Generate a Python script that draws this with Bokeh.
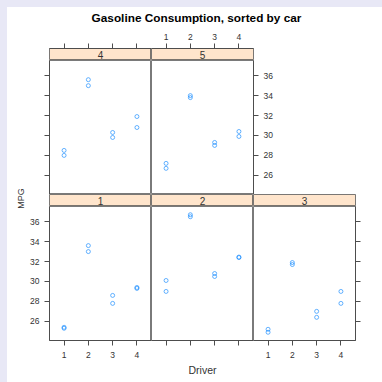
import math
from bokeh.plotting import figure
from bokeh.models import Range1d, LinearAxis, FixedTicker, Label, Spacer
from bokeh.layouts import column, row
from bokeh.embed import file_html
from bokeh.resources import INLINE

title_text = "Gasoline Consumption, sorted by car"
x_label = "Driver"
y_label = "MPG"

drivers = [1, 1, 2, 2, 3, 3, 4, 4]
mpg_car1 = [25.4, 25.3, 33.6, 33.0, 28.6, 27.8, 29.4, 29.3]
mpg_car2 = [30.1, 29.0, 36.7, 36.5, 30.8, 30.5, 32.45, 32.4]
mpg_car3 = [25.2, 24.9, 31.9, 31.7, 27.0, 26.4, 29.0, 27.8]
mpg_car4 = [28.5, 28.0, 35.6, 35.0, 30.3, 29.8, 31.9, 30.8]
mpg_car5 = [27.2, 26.7, 34.0, 33.8, 29.3, 29.0, 30.4, 29.9]

x_ticks = [1, 2, 3, 4]
y_ticks = [26, 28, 30, 32, 34, 36]

FONT = "Liberation Sans"
LINE = "#4d4d4d"
TXT = "#333333"
STRIP = "#ffe5cc"
PT = "#0080ff"
PAGE = "#e8e8f6"

all_mpg = mpg_car1 + mpg_car2 + mpg_car3 + mpg_car4 + mpg_car5
lo, hi = min(all_mpg), max(all_mpg)
pad = 0.07 * (hi - lo)
yr = Range1d(lo - pad, hi + pad)
xr = Range1d(min(drivers) - 0.6, max(drivers) + 0.6)


def base(width, height, left=0, right=0, top=0, bottom=0, x_range=None, y_range=None, fill="white"):
    f = figure(width=width, height=height, x_range=x_range or Range1d(0, 1),
               y_range=y_range or Range1d(0, 1), output_backend="svg",
               toolbar_location=None, x_axis_location=None, y_axis_location=None,
               min_border_left=left, min_border_right=right,
               min_border_top=top, min_border_bottom=bottom)
    f.grid.grid_line_color = None
    f.background_fill_color = fill
    f.border_fill_color = fill
    f.outline_line_color = None
    return f


def add_axis(f, side, labels=True, axis_label=None):
    ticks = x_ticks if side in ("above", "below") else y_ticks
    standoff = {"above": 4, "below": 6, "left": 5, "right": 5}[side]
    ax = LinearAxis(ticker=FixedTicker(ticks=ticks),
                    major_tick_out=5, major_tick_in=0,
                    minor_tick_out=0, minor_tick_in=0,
                    axis_line_color=LINE, major_tick_line_color=LINE,
                    major_label_text_font=FONT,
                    major_label_text_font_size="8.5px",
                    major_label_text_color=TXT,
                    major_label_standoff=standoff)
    if not labels:
        ax.major_label_overrides = {t: "" for t in ticks}
    if axis_label:
        ax.axis_label = axis_label
        ax.axis_label_text_font = FONT
        ax.axis_label_text_font_size = "10.5px"
        ax.axis_label_text_font_style = "normal"
        ax.axis_label_text_color = TXT
        ax.axis_label_standoff = 18
    f.add_layout(ax, side)


def panel(mpg, width, height, left=0, right=0, bottom=0):
    f = base(width, height, left=left, right=right, bottom=bottom, x_range=xr, y_range=yr)
    f.outline_line_color = LINE
    f.outline_line_alpha = 0.75
    f.scatter(x=drivers, y=mpg, marker="circle", size=4, fill_color=None,
              line_color=PT, line_width=1, line_alpha=0.6)
    return f


def strip(name, width, height, left=0, right=0, top=0):
    f = base(width, height, left=left, right=right, top=top, x_range=xr)
    f.background_fill_color = STRIP
    f.outline_line_color = LINE
    f.outline_line_alpha = 0.75
    f.add_layout(Label(x=(xr.start + xr.end) / 2, y=0.5, text=name,
                       text_align="center", text_baseline="middle",
                       text_font=FONT, text_font_size="10px",
                       text_color=TXT))
    return f


# page-coloured edge bars (screenshot frame)
bar_left = Spacer(width=7, height=382, styles={"background-color": PAGE})
bar_top = Spacer(width=375, height=7, styles={"background-color": PAGE})

# title
tf = base(375, 21)
tf.add_layout(Label(x=0.5, y=0.5, x_offset=1.5, text=title_text, text_align="center",
                    text_baseline="middle", text_font=FONT,
                    text_font_size="11.8px", text_font_style="bold", text_color="black"))

# y label column
yf = base(20, 354, top=28, bottom=42)
yf.add_layout(Label(x=0.5, y=0.5, x_offset=3, text=y_label, angle=math.pi / 2,
                    text_align="center", text_baseline="middle",
                    text_font=FONT, text_font_size="9px", text_color=TXT))

# top row
s4 = strip("4", 124, 32, left=22, top=20)
add_axis(s4, "above", labels=False)
s5 = strip("5", 231, 32, right=129, top=20)
add_axis(s5, "above", labels=True)

p4 = panel(mpg_car4, 124, 134, left=22)
add_axis(p4, "left", labels=False)
p5 = panel(mpg_car5, 231, 134, right=129)
add_axis(p5, "right", labels=True)

# bottom row
s1 = strip("1", 124, 12, left=22)
s2 = strip("2", 102, 12)
s3 = strip("3", 129, 12, right=27)

p1 = panel(mpg_car1, 124, 176, left=22, bottom=42)
add_axis(p1, "left", labels=True)
add_axis(p1, "below", labels=True)
p2 = panel(mpg_car2, 102, 176, bottom=42)
add_axis(p2, "below", labels=False, axis_label=x_label)
p3 = panel(mpg_car3, 129, 176, right=27, bottom=42)
add_axis(p3, "below", labels=True)
add_axis(p3, "right", labels=False)

grid = column(row(s4, s5), row(p4, p5), row(s1, s2, s3), row(p1, p2, p3))
content = column(bar_top, tf, row(yf, grid))
p = row(bar_left, content)

open("out.html", "w").write(file_html(p, INLINE))
